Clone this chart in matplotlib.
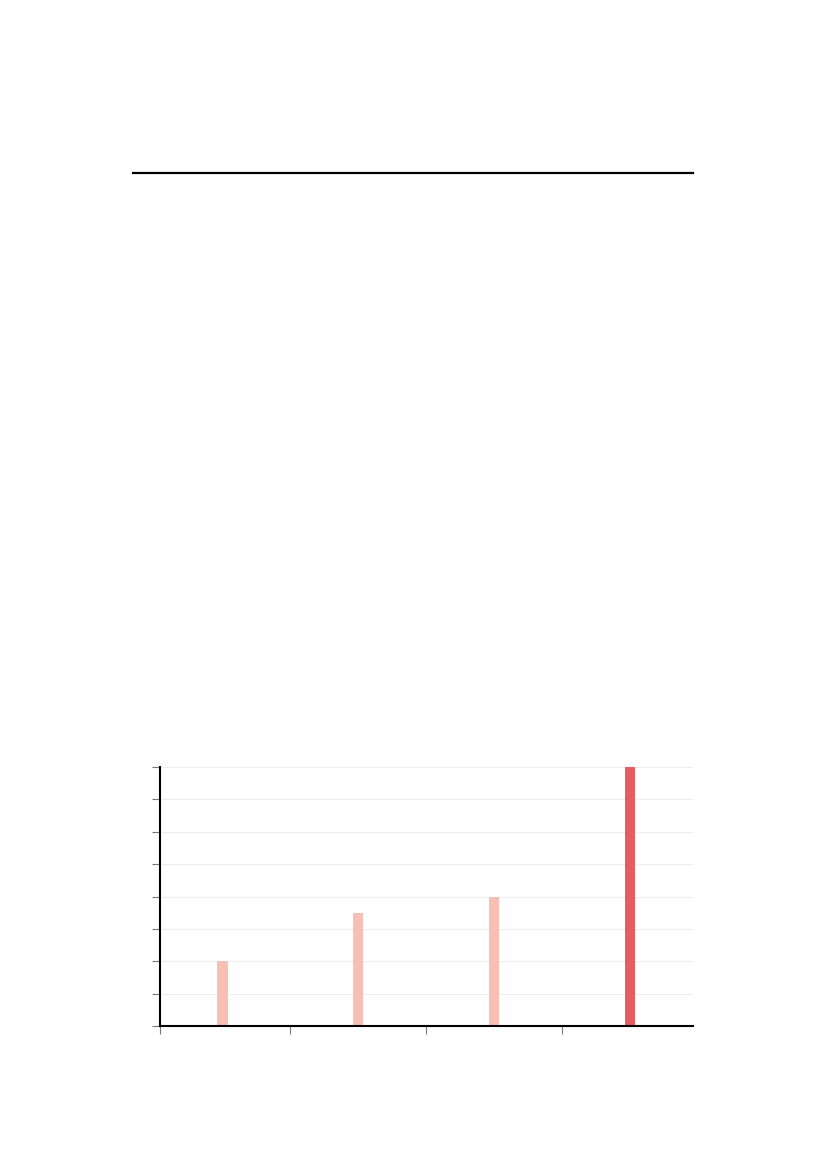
import matplotlib
matplotlib.use("Agg")
import matplotlib.pyplot as plt
from matplotlib.lines import Line2D

# bar data
positions = [0.5, 1.5, 2.5, 3.5]
values = [2.0, 3.5, 4.0, 8.0]
colors = ["#f8bfb5", "#f8bfb5", "#f8bfb5", "#e85d60"]
x_ticks = [0.04, 1, 2, 3]
y_ticks = [0, 1, 2, 3, 4, 5, 6, 7, 8]

W, H = 827, 1169
fig = plt.figure(figsize=(W / 100, H / 100), dpi=100)

# rule near the top of the page
fig.add_artist(Line2D([133 / W, 693 / W], [1 - 172.5 / H, 1 - 172.5 / H],
                      color="black", linewidth=1.6, transform=fig.transFigure))

left, right = 160 / W, 692.7 / W
bottom, top = 1 - 1026.3 / H, 1 - 767 / H
ax = fig.add_axes([left, bottom, right - left, top - bottom])

ax.bar(positions, values, width=0.074, color=colors, zorder=3)

ax.set_xlim(0.04, 3.96)
ax.set_ylim(0, 8)
ax.set_xticks(x_ticks)
ax.set_yticks(y_ticks)
ax.set_xticklabels([])
ax.set_yticklabels([])
ax.grid(axis="y", color="#eeeeee", linewidth=0.8, zorder=0)
ax.tick_params(axis="both", direction="out", length=6, width=0.8, color="#777777")

for side in ("top", "right"):
    ax.spines[side].set_visible(False)
for side in ("left", "bottom"):
    ax.spines[side].set_linewidth(1.5)
    ax.spines[side].set_color("black")
    ax.spines[side].set_zorder(4)

fig.savefig("out.png", dpi=100)
